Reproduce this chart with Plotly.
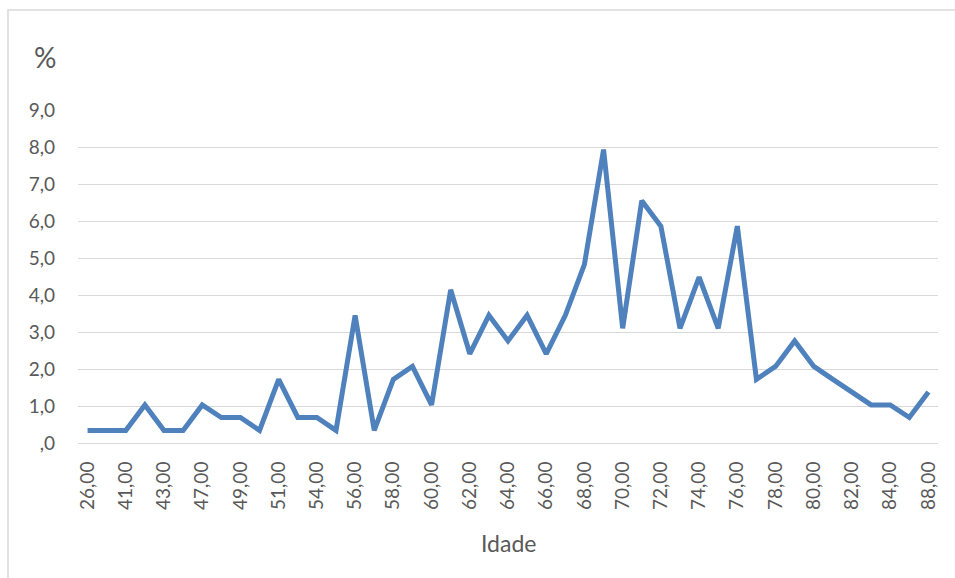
import plotly.graph_objects as go

# Age categories (Idade) and share of cases (%) per age
ages = [26, 39, 41, 42, 43, 45, 47, 48, 49, 50, 51, 52, 54, 55, 56, 57, 58, 59, 60,
        61, 62, 63, 64, 65, 66, 67, 68, 69, 70, 71, 72, 73, 74, 75, 76, 77, 78, 79,
        80, 81, 82, 83, 84, 86, 88]
percent = [0.34, 0.34, 0.34, 1.03, 0.34, 0.34, 1.03, 0.69, 0.69, 0.34, 1.72, 0.69,
           0.69, 0.34, 3.45, 0.34, 1.72, 2.07, 1.03, 4.14, 2.41, 3.45, 2.76, 3.45,
           2.41, 3.45, 4.83, 7.93, 3.10, 6.55, 5.86, 3.10, 4.48, 3.10, 5.86, 1.72,
           2.07, 2.76, 2.07, 1.72, 1.38, 1.03, 1.03, 0.69, 1.38]

y_ticks = [0, 1, 2, 3, 4, 5, 6, 7, 8, 9]
y_ticktext = [",0", "1,0", "2,0", "3,0", "4,0", "5,0", "6,0", "7,0", "8,0", "9,0"]

age_labels = [f"{a},00" for a in ages]

FONT = "Lato, 'Open Sans', sans-serif"
TEXT = "#595959"
GRID = "#d9d9d9"

fig = go.Figure(
    go.Scatter(
        x=age_labels,
        y=percent,
        mode="lines",
        line=dict(color="#4f81bd", width=5),
        hoverinfo="x+y",
    )
)

fig.update_layout(
    width=955,
    height=578,
    margin=dict(l=78, r=17, t=110, b=135),
    paper_bgcolor="white",
    plot_bgcolor="white",
    showlegend=False,
    font=dict(family=FONT, color=TEXT, size=19),
    xaxis=dict(
        type="category",
        categoryorder="array",
        categoryarray=age_labels,
        range=[-0.5, len(ages) - 0.5],
        tickmode="array",
        tickvals=age_labels[::2],
        ticktext=age_labels[::2],
        tickangle=-90,
        ticks="",
        ticklabelstandoff=10,
        showgrid=False,
        showline=True,
        linecolor=GRID,
        linewidth=1,
        zeroline=False,
        tickfont=dict(family=FONT, size=19, color=TEXT),
    ),
    yaxis=dict(
        range=[0, 9],
        tickmode="array",
        tickvals=y_ticks,
        ticktext=y_ticktext,
        ticks="",
        ticklabelstandoff=22,
        showgrid=True,
        gridcolor=GRID,
        gridwidth=1,
        zeroline=False,
        showline=False,
        tickfont=dict(family=FONT, size=19, color=TEXT),
    ),
    shapes=[
        dict(type="rect", xref="paper", yref="paper",
             x0=-70 / 860, x1=1.1, y0=-0.5, y1=1 + 100 / 333,
             line=dict(color=GRID, width=1.5), fillcolor="rgba(0,0,0,0)",
             layer="below"),
    ],
    annotations=[
        dict(text="%", xref="paper", yref="paper", x=-33 / 860, y=1 + 53 / 333,
             xanchor="center", yanchor="middle", showarrow=False,
             font=dict(family=FONT, size=28, color=TEXT)),
        dict(text="Idade", xref="paper", yref="paper", x=430 / 860, y=-100 / 333,
             xanchor="center", yanchor="middle", showarrow=False,
             font=dict(family=FONT, size=23, color=TEXT)),
    ],
)

fig.write_html("out.html")
